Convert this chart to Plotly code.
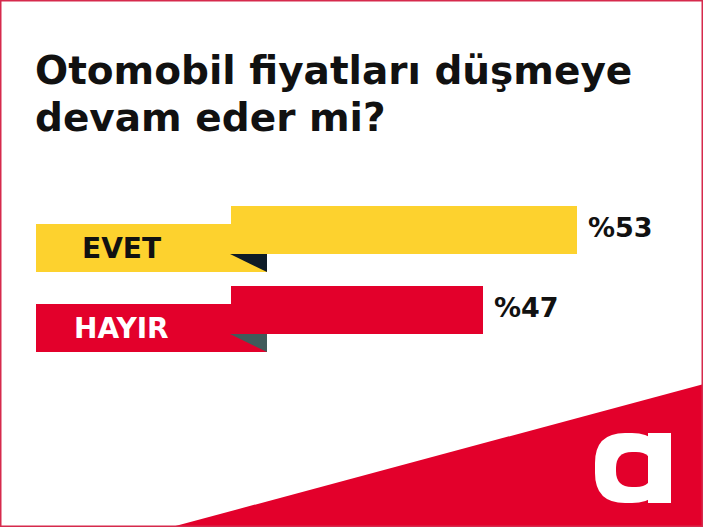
import plotly.graph_objects as go

# ---- data ----
categories = ["EVET", "HAYIR"]
values = [53, 47]
value_labels = ["%53", "%47"]
title_lines = ["Otomobil fiyatları düşmeye", "devam eder mi?"]

# ---- style ----
W, H = 703, 527
YELLOW = "#FDD22E"
RED = "#E3002B"
bar_colors = [YELLOW, RED]
tri_colors = ["#0E1B26", "#415B5B"]
label_colors = ["#111111", "#FFFFFF"]
FONT = "DejaVu Sans"
BAR_BASE = 30.91

ypos = list(range(len(categories)))

fig = go.Figure()
fig.add_trace(go.Bar(
    y=ypos, x=[v - BAR_BASE for v in values], base=BAR_BASE,
    orientation="h", width=0.6,
    marker=dict(color=bar_colors, line=dict(width=0)),
    hoverinfo="skip", showlegend=False,
))


def pix_shape(path, color, layer="above"):
    return dict(type="path", xref="paper", yref="paper", xsizemode="pixel", ysizemode="pixel",
                xanchor=0, yanchor=1, path=path, fillcolor=color, line=dict(width=0), layer=layer)


def P(pts):
    s = "M " + " L ".join(f"{x},{-y}" for x, y in pts) + " Z"
    return s


def rrect(x0, y0, x1, y1, r):
    return (f"M {x0+r},{-y0} L {x1-r},{-y0} Q {x1},{-y0} {x1},{-(y0+r)} "
            f"L {x1},{-(y1-r)} Q {x1},{-y1} {x1-r},{-y1} L {x0+r},{-y1} "
            f"Q {x0},{-y1} {x0},{-(y1-r)} L {x0},{-(y0+r)} Q {x0},{-y0} {x0+r},{-y0} Z")


shapes = []
# bottom-right red wedge
shapes.append(pix_shape(P([(168, 528), (704, 384), (704, 528)]), RED, "below"))
# label boxes and triangles (in y data units, per category)
for i, c in enumerate(categories):
    shapes.append(dict(type="rect", xref="paper", yref="y", x0=36 / W, x1=267 / W,
                       y0=i - 0.075, y1=i + 0.525, fillcolor=bar_colors[i],
                       line=dict(width=0), layer="above"))
    shapes.append(dict(type="path", xref="paper", yref="y",
                       path=f"M {230/W},{i+0.3} L {267/W},{i+0.3} L {267/W},{i+0.525} Z",
                       fillcolor=tri_colors[i], line=dict(width=0), layer="above"))
# logo "a"
shapes.append(pix_shape(rrect(595, 433, 662, 503, 30), "#FFFFFF"))
shapes.append(pix_shape(rrect(616, 452, 652, 487, 16), RED))
shapes.append(pix_shape(P([(648, 433), (671, 433), (671, 503), (648, 503)]), "#FFFFFF"))
# border
shapes.append(dict(type="path", xref="paper", yref="paper", xsizemode="pixel", ysizemode="pixel",
                   xanchor=0, yanchor=1, path=f"M 0.75,-0.75 L {W-0.75},-0.75 L {W-0.75},{-(H-0.75)} L 0.75,{-(H-0.75)} Z",
                   line=dict(color="#D62A4D", width=1.5), fillcolor="rgba(0,0,0,0)", layer="above"))

annotations = []
# title
for k, (line, base_y) in enumerate(zip(title_lines, [84, 131])):
    annotations.append(dict(text=f"<b>{line}</b>", xref="paper", yref="paper", x=33 / W,
                            y=1 - (base_y + 11) / H, xanchor="left", yanchor="bottom",
                            showarrow=False, font=dict(family=FONT, size=39, color="#111111")))
# category labels and values
for i, c in enumerate(categories):
    annotations.append(dict(text=f"<b>{c}</b>", xref="paper", yref="y", x=121 / W, y=i + 0.225,
                            xanchor="center", yanchor="middle", showarrow=False,
                            font=dict(family=FONT, size=28, color=label_colors[i])))
    annotations.append(dict(text=f"<b>{value_labels[i]}</b>", xref="x", yref="y", x=values[i], y=i - 0.03,
                            xanchor="left", yanchor="middle", xshift=9, showarrow=False,
                            font=dict(family=FONT, size=27, color="#111111")))

y_top = -230 / 80
y_bot = (H - 230) / 80
fig.update_layout(
    width=W, height=H, margin=dict(l=0, r=0, t=0, b=0),
    paper_bgcolor="#FFFFFF", plot_bgcolor="rgba(0,0,0,0)",
    xaxis=dict(range=[253.33 / 15.667, (W + 253.33) / 15.667], visible=False, fixedrange=True),
    yaxis=dict(range=[y_bot, y_top], visible=False, fixedrange=True),
    shapes=shapes, annotations=annotations, bargap=0,
)
fig.write_html("out.html", config={"displayModeBar": False},
               post_script="document.body.style.margin='0';document.body.style.overflow='hidden';")
